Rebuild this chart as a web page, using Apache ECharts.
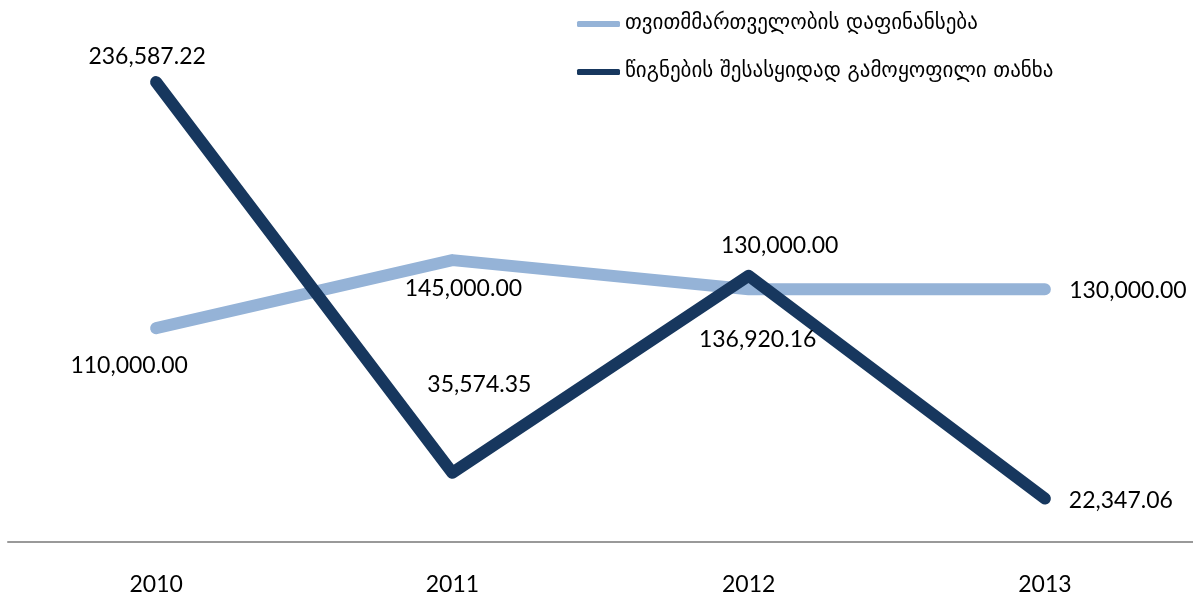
<!DOCTYPE html>
<html>
<head>
<meta charset="utf-8">
<script src="https://cdn.jsdelivr.net/npm/echarts@6/dist/echarts.min.js"></script>
<style>
  html, body { margin: 0; padding: 0; background: #fff; }
  #chart { width: 1193px; height: 596px; }
</style>
</head>
<body>
<div id="chart"></div>
<script>
// data
let years = ['2010', '2011', '2012', '2013'];
let fundingName = 'თვითმმართველობის დაფინანსება';
let fundingValues = [110000, 145000, 130000, 130000];
let booksName = 'წიგნების შესასყიდად გამოყოფილი თანხა';
let booksValues = [236587.22, 35574.35, 136920.16, 22347.06];

// where each value label sits relative to its point
let fundingLabelOffsets = [[-27, 37], [11, 28], [31, -44], [83, 1]];
let booksLabelOffsets = [[-9, -25], [27, -88], [9, 64], [76, 2]];

const numFont = 'Lato';

function fmt(v) {
    return v.toLocaleString('en-US', {minimumFractionDigits: 2, maximumFractionDigits: 2});
}

function withLabels(values, offsets) {
    return values.map((v, i) => ({
        value: v,
        label: {offset: offsets[i]}
    }));
}

function lineSeries(name, values, offsets, color) {
    return {
        name: name,
        type: 'line',
        data: withLabels(values, offsets),
        symbol: 'circle',
        symbolSize: 1,
        itemStyle: {color: color},
        lineStyle: {color: color, width: 12, cap: 'round', join: 'round'},
        label: {
            show: true,
            position: 'inside',
            fontFamily: numFont,
            fontSize: 23,
            color: '#000',
            formatter: (p) => fmt(p.value)
        },
        emphasis: {disabled: true},
        animation: false
    };
}

let chart = echarts.init(document.getElementById('chart'));

let option = {
    backgroundColor: '#fff',
    legend: {
        orient: 'vertical',
        left: 572,
        top: 6,
        itemWidth: 43,
        itemHeight: 6,
        itemGap: 22,
        icon: 'roundRect',
        textStyle: {
            fontFamily: 'DejaVu Sans',
            fontSize: 21,
            lineHeight: 26,
            color: '#000'
        },
        data: [fundingName, booksName]
    },
    grid: {
        left: 8,
        right: 0,
        top: 56,
        bottom: 54,
        containLabel: false
    },
    xAxis: {
        type: 'category',
        data: years,
        boundaryGap: true,
        axisLine: {lineStyle: {color: '#999', width: 2}},
        axisTick: {show: false},
        axisLabel: {
            margin: 31,
            fontFamily: numFont,
            fontSize: 23,
            color: '#000'
        }
    },
    yAxis: {
        type: 'value',
        min: 0,
        max: 250000,
        show: false,
        splitLine: {show: false}
    },
    series: [
        lineSeries(fundingName, fundingValues, fundingLabelOffsets, '#95B3D7'),
        lineSeries(booksName, booksValues, booksLabelOffsets, '#17375E')
    ]
};

chart.setOption(option);
</script>
</body>
</html>
